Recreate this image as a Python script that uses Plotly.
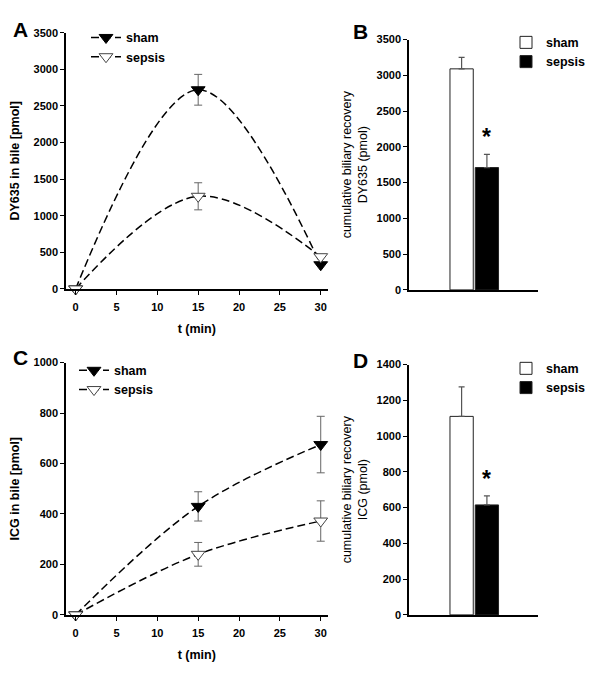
import plotly.graph_objects as go

# ---------------- data ----------------
t_min = [0, 15, 30]

# Panel A: DY635 in bile [pmol]
a_sham = [0, 2720, 330]
a_sham_err = [0, 210, 0]
a_sepsis = [0, 1265, 440]
a_sepsis_err = [0, 185, 0]

# Panel B: cumulative biliary recovery DY635 (pmol)
groups = ["sham", "sepsis"]
b_values = [3090, 1710]
b_err = [160, 185]

# Panel C: ICG in bile [pmol]
c_sham = [0, 430, 675]
c_sham_err = [0, 58, 112]
c_sepsis = [0, 240, 372]
c_sepsis_err = [0, 47, 80]

# Panel D: cumulative biliary recovery ICG (pmol)
d_values = [1110, 615]
d_err = [165, 50]

x_ticks = [0, 5, 10, 15, 20, 25, 30]

# page has an 8px body margin; figure sized so page is 600x677
OFF = 8
W, H = 600 - 2 * OFF, 677 - 2 * OFF
FONT = "Liberation Sans, Arial, sans-serif"


def px_x(a, b):
    return [(a - OFF) / W, (b - OFF) / W]


def px_y(top, bottom):
    return [(H - (bottom - OFF)) / H, (H - (top - OFF)) / H]


def fx(a):
    return (a - OFF) / W


def fy(a):
    return (H - (a - OFF)) / H


fig = go.Figure()

line_style = dict(color="black", width=1.5, dash="8px,4px", shape="spline", smoothing=1.0)
err_style = dict(type="data", color="#666666", thickness=1, width=4, visible=True)

scatter_specs = [
    (a_sham, a_sham_err, "black", "black", "x", "y", "legend", "sham"),
    (a_sepsis, a_sepsis_err, "white", "#444444", "x", "y", "legend", "sepsis"),
    (c_sham, c_sham_err, "black", "black", "x3", "y3", "legend3", "sham"),
    (c_sepsis, c_sepsis_err, "white", "#444444", "x3", "y3", "legend3", "sepsis"),
]
for yv, ev, fill, edge, xa, ya, lg, nm in scatter_specs:
    fig.add_trace(go.Scatter(x=t_min, y=yv, mode="lines+markers", name=f"<b>{nm}</b>",
                             line=line_style,
                             marker=dict(symbol="triangle-down", size=12, color=fill,
                                         line=dict(color=edge, width=1)),
                             error_y=dict(array=ev, **err_style),
                             xaxis=xa, yaxis=ya, legend=lg, cliponaxis=False))

# Bars (B and D)
bar_err = dict(type="data", symmetric=False, color="#555555", thickness=1.2, width=3)
fills = ["white", "black"]
for vals, errs, xa, ya, lg in [(b_values, b_err, "x2", "y2", "legend2"),
                               (d_values, d_err, "x4", "y4", "legend4")]:
    for i, g in enumerate(groups):
        fig.add_trace(go.Bar(x=[g], y=[vals[i]], name=f"<b>{g}</b>", width=0.92,
                             marker=dict(color=fills[i], line=dict(color="#222222", width=1)),
                             error_y=dict(array=[errs[i]], arrayminus=[0], **bar_err),
                             xaxis=xa, yaxis=ya, legend=lg))
    fig.add_annotation(x="sepsis", y=vals[1] + errs[1], yshift=17, text="<b>*</b>",
                       showarrow=False, xref=xa, yref=ya,
                       font=dict(family=FONT, size=23, color="black"))

tickfont = dict(family=FONT, size=11, color="black")
titlefont = dict(family=FONT, size=12.5, color="black")

common_ax = dict(showline=True, linecolor="black", linewidth=1.5, ticks="outside",
                 ticklen=4, tickwidth=1, tickcolor="black", showgrid=False,
                 zeroline=False, tickfont=tickfont)

# scatter x axes
for ax, anchor in [("xaxis", "y"), ("xaxis3", "y3")]:
    fig.layout[ax] = dict(domain=px_x(66, 327.5), anchor=anchor, range=[-1.18, 30.83],
                          tickvals=x_ticks, ticktext=[f"<b>{v}</b>" for v in x_ticks],
                          ticklabelstandoff=3,
                          title=dict(text="<b>t (min)</b>", standoff=12, font=titlefont),
                          **common_ax)

fig.layout["yaxis"] = dict(domain=px_y(27, 288), anchor="x", range=[0, 3500],
                           tickvals=list(range(0, 3501, 500)),
                           ticktext=[f"<b>{v}</b>" for v in range(0, 3501, 500)],
                           title=dict(text="<b>DY635 in bile [pmol]</b>", standoff=11,
                                      font=titlefont),
                           **common_ax)
fig.layout["yaxis3"] = dict(domain=px_y(363, 620), anchor="x3", range=[0, 1000],
                            tickvals=list(range(0, 1001, 200)),
                            ticktext=[f"<b>{v}</b>" for v in range(0, 1001, 200)],
                            title=dict(text="<b>ICG in bile [pmol]</b>", standoff=11,
                                       font=titlefont),
                            **common_ax)

# bar axes
bar_x = dict(showline=True, linecolor="black", linewidth=1.5, ticks="", showticklabels=False,
             showgrid=False, zeroline=False, type="category", range=[-2.08, 3.02])
fig.layout["xaxis2"] = dict(domain=px_x(409, 538), anchor="y2", **bar_x)
fig.layout["xaxis4"] = dict(domain=px_x(409, 538), anchor="y4", **bar_x)
bar_title_font = dict(family=FONT, size=12.5, color="black")
fig.layout["yaxis2"] = dict(domain=px_y(34, 289), anchor="x2", range=[0, 3500],
                            tickvals=list(range(0, 3501, 500)),
                            ticktext=[f"<b>{v}</b>" for v in range(0, 3501, 500)],
                            title=dict(text="cumulative biliary recovery<br>DY635 (pmol)",
                                       standoff=6, font=bar_title_font),
                            **common_ax)
fig.layout["yaxis4"] = dict(domain=px_y(365, 620), anchor="x4", range=[0, 1400],
                            tickvals=list(range(0, 1401, 200)),
                            ticktext=[f"<b>{v}</b>" for v in range(0, 1401, 200)],
                            title=dict(text="cumulative biliary recovery<br>ICG (pmol)",
                                       standoff=6, font=bar_title_font),
                            **common_ax)

legfont = dict(family=FONT, size=12.5, color="black")
leg_common = dict(bgcolor="rgba(0,0,0,0)", borderwidth=0, font=legfont,
                  xanchor="left", yanchor="top", tracegroupgap=0, itemwidth=30)
fig.update_layout(
    legend=dict(x=fx(86), y=fy(17), **leg_common),
    legend2=dict(x=fx(506), y=fy(22), **leg_common),
    legend3=dict(x=fx(74), y=fy(356), **leg_common),
    legend4=dict(x=fx(506), y=fy(354), **leg_common),
)

# panel letters
for letter, x, y in [("A", 11, 10), ("B", 351, 12), ("C", 11, 344), ("D", 351, 347)]:
    fig.add_annotation(text=f"<b>{letter}</b>", x=fx(x), y=fy(y), xref="paper",
                       yref="paper", xanchor="left", yanchor="top", showarrow=False,
                       font=dict(family=FONT, size=21, color="black"))

fig.update_layout(width=W, height=H, margin=dict(l=0, r=0, t=0, b=0),
                  plot_bgcolor="white", paper_bgcolor="white", barmode="overlay",
                  font=dict(family=FONT, color="black"), showlegend=True)

fig.write_html("out.html")
